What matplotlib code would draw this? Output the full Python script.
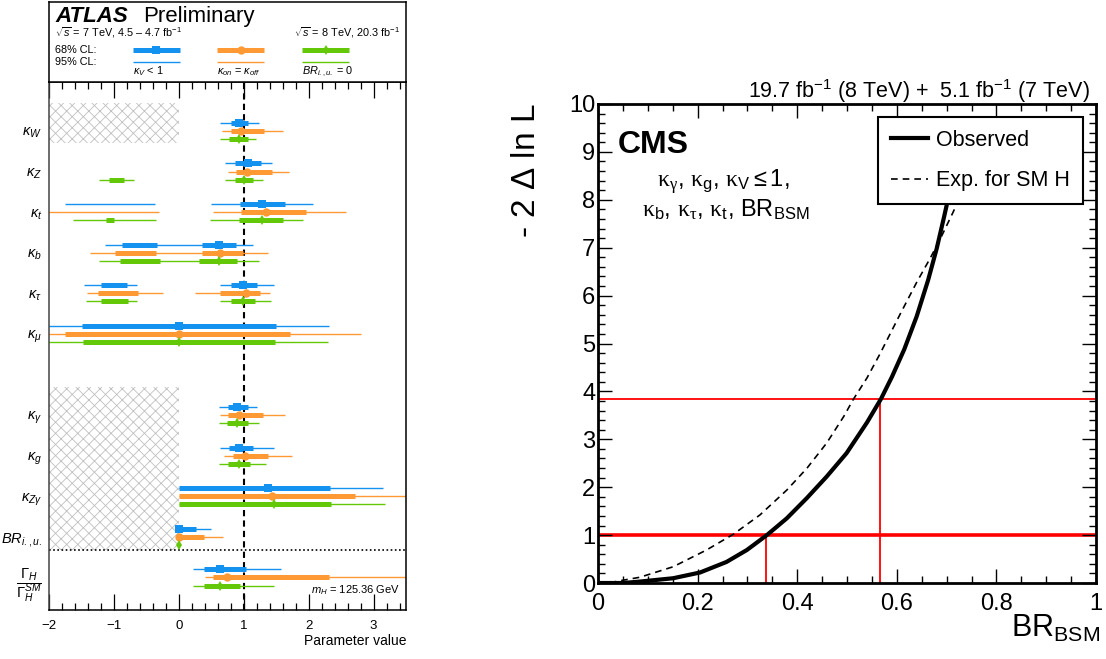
import matplotlib.pyplot as plt
from matplotlib.patches import Rectangle
from matplotlib.ticker import MultipleLocator, FuncFormatter

plt.rcParams['font.family'] = ['Liberation Sans', 'DejaVu Sans']
plt.rcParams['mathtext.fontset'] = 'custom'
plt.rcParams['mathtext.rm'] = 'Liberation Sans'
plt.rcParams['mathtext.it'] = 'Liberation Sans:italic'
plt.rcParams['mathtext.bf'] = 'Liberation Sans:bold'
plt.rcParams['mathtext.sf'] = 'Liberation Sans'
plt.rcParams['mathtext.tt'] = 'Liberation Serif'   # used for upright serif greek
plt.rcParams['hatch.linewidth'] = 0.6

# ---------------- ATLAS coupling fit ----------------
PARAM_LABELS = [r'$\kappa_W$', r'$\kappa_Z$', r'$\kappa_t$', r'$\kappa_b$', r'$\kappa_\tau$',
                r'$\kappa_\mu$', r'$\kappa_\gamma$', r'$\kappa_g$', r'$\kappa_{Z\gamma}$',
                r'$BR_{i.,u.}$', r'$\dfrac{\mathit{\Gamma}_H}{\mathit{\Gamma}_H^{SM}}$']

# kappa_V < 1
BEST_KV = [0.92, 1.07, 1.28, 0.62, 0.99, 0.0, 0.89, 0.93, 1.37, 0.0, 0.64]
CI68_KV = [[(0.80, 1.07)], [(0.86, 1.26)], [(0.94, 1.63)], [(-0.87, -0.34), (0.35, 0.88)],
           [(-1.20, -0.80), (0.80, 1.21)], [(-1.49, 1.49)], [(0.76, 1.06)], [(0.77, 1.15)],
           [(0.0, 2.33)], [(-0.05, 0.27)], [(0.39, 1.04)]]
CI95_KV = [[(0.64, 1.23)], [(0.71, 1.44)], [(-1.75, -0.36), (0.49, 2.07)], [(-1.14, 1.15)],
           [(-1.46, -0.64), (0.64, 1.46)], [(-2.3, 2.31)], [(0.62, 1.21)], [(0.63, 1.46)],
           [(0.0, 3.14)], [(-0.05, 0.50)], [(0.22, 1.58)]]

# kappa_on = kappa_off
BEST_ON = [0.96, 1.05, 1.35, 0.63, 1.03, 0.0, 0.93, 1.02, 1.43, 0.0, 0.74]
CI68_ON = [[(0.80, 1.31)], [(0.88, 1.43)], [(0.96, 1.96)], [(-0.98, -0.35), (0.36, 0.99)],
           [(-1.24, -0.63), (0.63, 1.25)], [(-1.76, 1.71)], [(0.76, 1.29)], [(0.83, 1.38)],
           [(0.0, 2.71)], [(0.0, 0.39)], [(0.53, 2.31)]]
CI95_ON = [[(0.67, 1.61)], [(0.76, 1.70)], [(-2.3, -0.31), (0.53, 2.58)], [(-1.37, 1.37)],
           [(-1.41, -0.24), (0.25, 1.41)], [(-2.3, 2.80)], [(0.63, 1.64)], [(0.69, 1.75)],
           [(0.0, 3.8)], [(0.0, 0.68)], [(0.41, 3.8)]]

# BR_i.,u. = 0
BEST_BR0 = [0.92, 1.00, 1.28, 0.62, 0.99, 0.0, 0.90, 0.92, 1.47, 0.0, 0.64]
CI68_BR0 = [[(0.77, 1.06)], [(-1.08, -0.85), (0.86, 1.14)], [(-1.12, -1.00), (0.93, 1.60)],
            [(-0.90, -0.29), (0.31, 0.90)], [(-1.20, -0.79), (0.80, 1.18)], [(-1.47, 1.48)],
            [(0.74, 1.06)], [(0.75, 1.10)], [(0.0, 2.34)], [], [(0.39, 0.95)]]
CI95_BR0 = [[(0.64, 1.19)], [(-1.23, -0.69), (0.71, 1.29)], [(-1.63, -0.35), (0.48, 1.92)],
            [(-1.23, 1.23)], [(-1.43, -0.64), (0.63, 1.42)], [(-2.3, 2.30)], [(0.62, 1.23)],
            [(0.62, 1.34)], [(0.0, 3.18)], [], [(0.22, 1.46)]]

SCENARIO_LABELS = [r'$\kappa_V$ < 1', r'$\kappa_{on}$ = $\kappa_{off}$', r'$BR_{i.,u.}$ = 0']
COLORS = ['#1492f0', '#ff9933', '#62c808']

# ---------------- CMS BR_BSM scan ----------------
OBS_X = [0.0, 0.05, 0.084, 0.151, 0.205, 0.258, 0.299, 0.339, 0.379, 0.419, 0.459,
         0.499, 0.540, 0.568, 0.590, 0.615, 0.640, 0.663, 0.680, 0.695, 0.710, 0.728]
OBS_Y = [0.0, 0.0, 0.03, 0.10, 0.22, 0.44, 0.69, 1.0, 1.35, 1.77, 2.22,
         2.71, 3.35, 3.84, 4.30, 4.88, 5.57, 6.33, 6.98, 7.65, 8.35, 9.3]
EXP_X = [0.0, 0.025, 0.051, 0.084, 0.151, 0.218, 0.272, 0.325, 0.379, 0.419, 0.459,
         0.493, 0.513, 0.540, 0.566, 0.606, 0.640, 0.667, 0.687, 0.712, 0.74, 0.77]
EXP_Y = [0.0, 0.01, 0.06, 0.12, 0.34, 0.69, 1.02, 1.42, 1.94, 2.39, 2.92,
         3.47, 3.84, 4.28, 4.78, 5.6, 6.28, 6.78, 7.18, 7.72, 8.35, 9.05]
CL68, CL95 = 1.0, 3.84
LIM68, LIM95 = 0.338, 0.567

fig = plt.figure(figsize=(11.06, 6.59), dpi=100)

# ===== left: ATLAS =====
ax = fig.add_axes([0.0443, 0.0744, 0.3228, 0.8012])
hdr = fig.add_axes([0.0443, 0.8756, 0.3228, 0.1214])

rows = list(range(1, 7)) + list(range(8, 13))   # empty slot between kappa_mu and kappa_gamma

# excluded regions (kappa_V < 1 scenario)
for y0, y1 in [(0.30, 1.30), (7.31, 11.32)]:
    ax.add_patch(Rectangle((-2, y0), 2, y1 - y0, fill=False, hatch='xxx',
                           edgecolor='#c0c0c0', linewidth=0, zorder=0))

ax.axvline(1.0, color='black', ls=(0, (3, 2)), lw=1.5, zorder=1)
ax.axhline(11.32, color='black', ls=(0, (1, 1.5)), lw=1.2, zorder=1)

scenarios = [(BEST_KV, CI68_KV, CI95_KV, 's', 5.5, -0.2),
             (BEST_ON, CI68_ON, CI95_ON, 'o', 6.0, 0.0),
             (BEST_BR0, CI68_BR0, CI95_BR0, 'd', 5.0, 0.2)]
for (best, c68, c95, mk, ms, off), col in zip(scenarios, COLORS):
    for y, b, s68, s95 in zip(rows, best, c68, c95):
        for lo, hi in s95:
            ax.plot([lo, hi], [y + off] * 2, color=col, lw=1.0, solid_capstyle='butt', zorder=2)
        for lo, hi in s68:
            ax.plot([lo, hi], [y + off] * 2, color=col, lw=3.6, solid_capstyle='butt', zorder=3)
        ax.plot(b, y + off, marker=mk, color=col, ms=ms, mec=col, mew=0, zorder=4)

ax.set_xlim(-2, 3.5)
ax.set_ylim(12.8, -0.207)
ax.xaxis.set_major_locator(MultipleLocator(1))
ax.xaxis.set_minor_locator(MultipleLocator(0.2))
ax.tick_params(axis='x', which='both', direction='in', top=True, bottom=True,
               labelsize=9.5, pad=7, width=0.9)
ax.tick_params(axis='x', which='major', length=11.5)
ax.tick_params(axis='x', which='minor', length=5)
ax.set_yticks(rows)
ax.set_yticklabels(PARAM_LABELS)
ax.tick_params(axis='y', length=0, pad=5, labelsize=10.5)
for s in ax.spines.values():
    s.set_linewidth(1.1)
ax.spines['left'].set_color('#444444')
ax.set_xlabel('Parameter value', fontsize=10, loc='right')
ax.xaxis.set_label_coords(1.0, -0.045)
ax.text(0.983, 0.032, r'$m_H$ = 125.36 GeV', transform=ax.transAxes,
        ha='right', va='baseline', fontsize=8)

# header box with legend
hdr.set_xticks([])
hdr.set_yticks([])
for s in hdr.spines.values():
    s.set_linewidth(1.1)
hdr.text(0.017, 0.75, 'ATLAS', fontsize=16, fontweight='bold', style='italic',
         va='baseline', transform=hdr.transAxes)
hdr.text(0.263, 0.75, 'Preliminary', fontsize=16, va='baseline', transform=hdr.transAxes)
hdr.text(0.017, 0.565, r'$\sqrt{s}$ = 7 TeV, 4.5 – 4.7 fb$^{-1}$', fontsize=7.8,
         va='baseline', transform=hdr.transAxes)
hdr.text(0.983, 0.565, r'$\sqrt{s}$ = 8 TeV, 20.3 fb$^{-1}$', fontsize=7.8,
         ha='right', va='baseline', transform=hdr.transAxes)
hdr.text(0.017, 0.36, '68% CL:', fontsize=7.8, va='baseline', transform=hdr.transAxes)
hdr.text(0.017, 0.215, '95% CL:', fontsize=7.8, va='baseline', transform=hdr.transAxes)
for x0, (_, _, _, mk, ms, _), col, lab in zip([0.235, 0.471, 0.709], scenarios, COLORS,
                                              SCENARIO_LABELS):
    hdr.plot([x0, x0 + 0.132], [0.40, 0.40], color=col, lw=3.6, solid_capstyle='butt',
             transform=hdr.transAxes)
    hdr.plot(x0 + 0.066, 0.40, marker=mk, color=col, ms=ms, mew=0, transform=hdr.transAxes)
    hdr.plot([x0, x0 + 0.132], [0.25, 0.25], color=col, lw=1.0, solid_capstyle='butt',
             transform=hdr.transAxes)
    hdr.text(x0, 0.10, lab, fontsize=7.8, va='baseline', transform=hdr.transAxes)

# ===== right: CMS =====
ax2 = fig.add_axes([0.5407, 0.1153, 0.4503, 0.7269])
ax2.axhline(CL68, color='red', lw=2.6, zorder=1)
ax2.axhline(CL95, color='red', lw=1.3, zorder=1)
ax2.plot([LIM68, LIM68], [0, CL68], color='red', lw=1.3, zorder=1)
ax2.plot([LIM95, LIM95], [0, CL95], color='red', lw=1.3, zorder=1)
l_exp, = ax2.plot(EXP_X, EXP_Y, color='black', lw=1.2, ls=(0, (4, 3)), zorder=2)
l_obs, = ax2.plot(OBS_X, OBS_Y, color='black', lw=3.0, zorder=3)
ax2.set_xlim(0, 1)
ax2.set_ylim(0, 10)

fmt = FuncFormatter(lambda v, p: f'{v:g}')
ax2.xaxis.set_major_locator(MultipleLocator(0.2))
ax2.xaxis.set_minor_locator(MultipleLocator(0.05))
ax2.yaxis.set_major_locator(MultipleLocator(1))
ax2.yaxis.set_minor_locator(MultipleLocator(0.2))
ax2.xaxis.set_major_formatter(fmt)
ax2.yaxis.set_major_formatter(fmt)
ax2.tick_params(which='both', direction='in', top=True, right=True, labelsize=17, width=1.0)
ax2.tick_params(which='major', length=10)
ax2.tick_params(which='minor', length=5)
ax2.tick_params(axis='x', pad=7)
ax2.tick_params(axis='y', pad=2)
for s in ax2.spines.values():
    s.set_linewidth(2)

ax2.set_ylabel(r'- 2 $\Delta$ ln L', fontsize=24, loc='top')
ax2.yaxis.set_label_coords(-0.112, 1.0)
ax2.set_xlabel(r'BR$_{\mathrm{BSM}}$', fontsize=22, loc='right')
ax2.xaxis.set_label_coords(1.008, -0.063)

ax2.text(0.988, 1.012, r'19.7 fb$^{-1}$ (8 TeV) +  5.1 fb$^{-1}$ (7 TeV)',
         transform=ax2.transAxes, ha='right', va='baseline', fontsize=15.5)
ax2.text(0.040, 0.897, 'CMS', transform=ax2.transAxes, fontsize=23, fontweight='bold',
         va='baseline')
ax2.text(0.251, 0.826,
         r'$\mathtt{\kappa}_{\mathtt{\gamma}}$, $\mathtt{\kappa}_{\mathrm{g}}$, '
         r'$\mathtt{\kappa}_{\mathrm{V}}{\leq}$1,',
         transform=ax2.transAxes, ha='center', va='baseline', fontsize=17)
ax2.text(0.257, 0.765,
         r'$\mathtt{\kappa}_{\mathrm{b}}$, $\mathtt{\kappa}_{\mathtt{\tau}}$, '
         r'$\mathtt{\kappa}_{\mathrm{t}}$, BR$_{\mathrm{BSM}}$',
         transform=ax2.transAxes, ha='center', va='baseline', fontsize=17)

leg = ax2.legend([l_obs, l_exp], ['Observed', 'Exp. for SM H'], loc='upper right',
                 bbox_to_anchor=(0.974, 0.973), borderaxespad=0, fontsize=15.5,
                 handlelength=1.7, handletextpad=0.4, labelspacing=0.9, borderpad=0.6,
                 fancybox=False, framealpha=1)
leg.get_frame().set_edgecolor('black')
leg.get_frame().set_linewidth(1.5)
leg.set_zorder(5)

fig.savefig('out.png', dpi=100)
